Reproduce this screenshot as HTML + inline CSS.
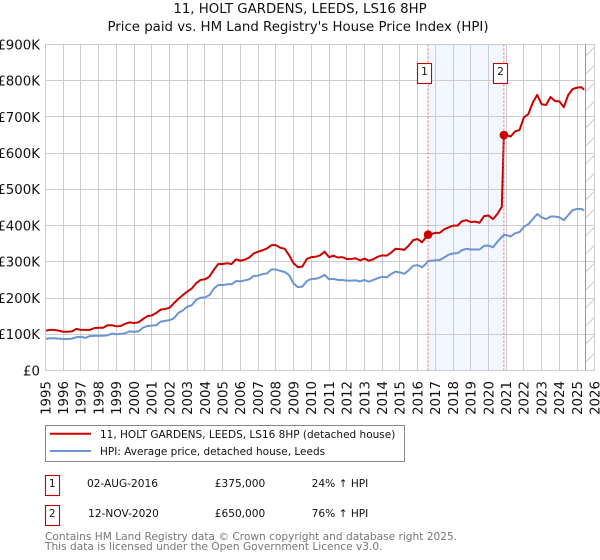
<!DOCTYPE html>
<html><head><meta charset="utf-8"><style>
html,body{margin:0;padding:0;background:#fff;width:600px;height:560px;overflow:hidden}
svg{display:block;font-family:"DejaVu Sans","Liberation Sans",sans-serif}
</style></head><body>
<svg id="chart" xmlns="http://www.w3.org/2000/svg" width="600" height="560" viewBox="0 0 600 560">
<text x="300" y="13" font-size="13.33" text-anchor="middle" fill="#111">11, HOLT GARDENS, LEEDS, LS16 8HP</text>
<text x="298" y="31" font-size="13.33" text-anchor="middle" fill="#111">Price paid vs. HM Land Registry's House Price Index (HPI)</text>
<g id="plot"></g>
<g>
<rect x="45.5" y="425.5" width="359" height="36" fill="#fff" stroke="#888"/>
<line x1="50" x2="91" y1="433.7" y2="433.7" stroke="#cc0000" stroke-width="2"/>
<text x="100" y="438" font-size="10.5" fill="#111">11, HOLT GARDENS, LEEDS, LS16 8HP (detached house)</text>
<line x1="50" x2="91" y1="451" y2="451" stroke="#6a94d4" stroke-width="2"/>
<text x="100" y="455" font-size="10.5" fill="#111">HPI: Average price, detached house, Leeds</text>
</g>
<g font-size="10.6" fill="#111">
<rect x="45.5" y="475.5" width="14" height="20" fill="#fff" stroke="#cc0000" stroke-width="1.1"/>
<text x="52.3" y="487" text-anchor="middle">1</text>
<text x="122.5" y="487" text-anchor="middle">02-AUG-2016</text>
<text x="240" y="487" text-anchor="middle">£375,000</text>
<text x="340" y="487" text-anchor="middle">24% ↑ HPI</text>
<rect x="45.5" y="505.5" width="14" height="20" fill="#fff" stroke="#cc0000" stroke-width="1.1"/>
<text x="52.3" y="517" text-anchor="middle">2</text>
<text x="123.5" y="517" text-anchor="middle">12-NOV-2020</text>
<text x="240" y="517" text-anchor="middle">£650,000</text>
<text x="340" y="517" text-anchor="middle">76% ↑ HPI</text>
</g>
<text x="45" y="540" font-size="10.6" fill="#777">Contains HM Land Registry data © Crown copyright and database right 2025.</text>
<text x="45" y="550" font-size="10.6" fill="#777">This data is licensed under the Open Government Licence v3.0.</text>
</svg>
<script>
const yearTicks = [1995,1996,1997,1998,1999,2000,2001,2002,2003,2004,2005,2006,2007,2008,2009,2010,2011,2012,2013,2014,2015,2016,2017,2018,2019,2020,2021,2022,2023,2024,2025,2026];
const valueTicks = [0,100,200,300,400,500,600,700,800,900];
const valueLabels = ["£0","£100K","£200K","£300K","£400K","£500K","£600K","£700K","£800K","£900K"];
const dates = [
1995,1995.25,1995.5,1995.75,1996,1996.25,1996.5,1996.75,1997,1997.25,1997.5,1997.75,
1998,1998.25,1998.5,1998.75,1999,1999.25,1999.5,1999.75,2000,2000.25,2000.5,2000.75,
2001,2001.25,2001.5,2001.75,2002,2002.25,2002.5,2002.75,2003,2003.25,2003.5,2003.75,
2004,2004.25,2004.5,2004.75,2005,2005.25,2005.5,2005.75,2006,2006.25,2006.5,2006.75,
2007,2007.25,2007.5,2007.75,2008,2008.25,2008.5,2008.75,2009,2009.25,2009.5,2009.75,
2010,2010.25,2010.5,2010.75,2011,2011.25,2011.5,2011.75,2012,2012.25,2012.5,2012.75,
2013,2013.25,2013.5,2013.75,2014,2014.25,2014.5,2014.75,2015,2015.25,2015.5,2015.75,
2016,2016.25,2016.5,2016.59,2016.75,2017,2017.25,2017.5,2017.75,2018,2018.25,2018.5,2018.75,
2019,2019.25,2019.5,2019.75,2020,2020.25,2020.5,2020.75,2020.87,2021,2021.25,2021.5,2021.75,
2022,2022.25,2022.5,2022.75,2023,2023.25,2023.5,2023.75,2024,2024.25,2024.5,2024.75,
2025,2025.25,2025.4];
const pricePaid = [
110,112,112,110,107,107,108,115,112,112,112,117,
118,118,125,125,122,123,129,133,131,133,142,150,
152,159,168,170,173,186,198,208,218,226,241,250,
252,259,278,294,294,296,294,307,303,306,312,323,
328,332,337,346,346,339,336,318,296,285,287,308,
313,314,318,328,313,317,312,313,308,308,310,304,
309,303,307,314,318,317,325,336,335,333,345,360,
363,354,370,375,376,380,380,390,395,400,400,412,415,
410,411,408,426,428,418,432,452,650,650,646,660,664,
699,708,740,761,735,733,755,744,743,727,761,777,
781,782,775];
const hpiIndex = [
87,89,89,88,87,87,88,92,93,90,95,96,
96,96,97,102,100,101,103,108,107,108,118,123,
124,125,135,137,139,144,159,166,176,180,195,201,
202,208,226,236,236,238,238,247,246,249,252,261,
262,266,268,279,279,275,272,263,240,230,232,247,
253,253,257,264,252,253,250,250,248,248,249,246,
250,245,250,255,259,257,266,273,271,267,277,289,
291,285,296,303,303,304,305,312,320,323,324,332,336,
334,334,334,344,345,340,355,369,374,374,370,379,382,
397,404,418,432,423,418,425,425,423,415,429,443,
446,446,442];
const saleDates = [2016.59,2020.87];
const salePrices = [375,650];
const saleNumbers = ["1","2"];

const NS = "http://www.w3.org/2000/svg";
const plot = document.getElementById("plot");
const xScale = d => 45.5 + (d - 1995) * 17.72;
const yScale = v => 370.5 - v * 0.3622;
const crisp = p => Math.floor(p) + 0.5;
const xEnd = xScale(2026);
const yTop = yScale(900);
const yBottom = yScale(0);
function mk(tag, attrs, parent) {
  const el = document.createElementNS(NS, tag);
  for (const k in attrs) el.setAttribute(k, attrs[k]);
  (parent || plot).appendChild(el);
  return el;
}

const span = mk("rect", {x: xScale(saleDates[0]), y: yTop, width: xScale(saleDates[1]) - xScale(saleDates[0]), height: yBottom - yTop, fill: "#f2f6fe"});



yearTicks.forEach(yr => {
  const p = crisp(xScale(yr));
  const g = mk("line", {x1: p, x2: p, y1: crisp(yTop), y2: crisp(yBottom), stroke: "#cccccc", "stroke-width": 1});
  
  
  const t = mk("text", {transform: "translate(" + (xScale(yr) + 4.8) + ",381) rotate(-90)", "font-size": 13.33, "text-anchor": "end", fill: "#111"});
  t.textContent = yr;
  
  
});
valueTicks.forEach((v, i) => {
  const p = crisp(yScale(v));
  const g = mk("line", {x1: crisp(xScale(1995)), x2: crisp(xEnd), y1: p, y2: p, stroke: "#cccccc", "stroke-width": 1});
  
  
  const t = mk("text", {x: 40, y: yScale(v) + 4.8, "font-size": 13.33, "text-anchor": "end", fill: "#111"});
  t.textContent = valueLabels[i];
  
  
});

/* future (no data) hatch */
const hatchStart = xScale(2025.45);
const hatch = mk("g", {stroke: "#cccccc", "stroke-width": 1});


for (let yy = yTop + 12; yy < yBottom + 10; yy += 18) {
  const y1 = Math.min(yy, yBottom), cut = yy - y1;
  mk("line", {x1: hatchStart + cut, y1: y1, x2: xEnd, y2: yy - (xEnd - hatchStart)}, hatch);
}
const edge = mk("line", {x1: crisp(hatchStart), x2: crisp(hatchStart), y1: yTop, y2: yBottom, stroke: "#999999", "stroke-width": 1});



const toPath = vals => vals.map((v, i) => (i ? "L" : "M") + xScale(dates[i]).toFixed(2) + " " + yScale(v).toFixed(2)).join("");
const hpiLine = mk("path", {d: toPath(hpiIndex), fill: "none", stroke: "#6a94d4", "stroke-width": 2, "stroke-linejoin": "round"});


const priceLine = mk("path", {d: toPath(pricePaid), fill: "none", stroke: "#cc0000", "stroke-width": 2, "stroke-linejoin": "round"});



saleDates.forEach((d, i) => {
  const x = xScale(d);
  const v = mk("line", {x1: x, x2: x, y1: yTop, y2: yBottom, stroke: "#e8687a", "stroke-width": 1, "stroke-dasharray": "2 2"});
  
  
  const c = mk("circle", {cx: x, cy: yScale(salePrices[i]), r: 4.3, fill: "#cc0000"});
  
  
  const b = mk("rect", {x: crisp(x - 10.5), y: 63.5, width: 14, height: 20, fill: "#fff", stroke: "#cc0000", "stroke-width": 1.1});
  
  
  const t = mk("text", {x: crisp(x - 10.5) + 7, y: 75, "font-size": 10.6, "text-anchor": "middle", fill: "#111"});
  t.textContent = saleNumbers[i];
  
  
});

const border = mk("rect", {x: crisp(xScale(1995)), y: crisp(yTop), width: crisp(xEnd) - crisp(xScale(1995)), height: crisp(yBottom) - crisp(yTop), fill: "none", stroke: "#cccccc"});


</script>
</body></html>
